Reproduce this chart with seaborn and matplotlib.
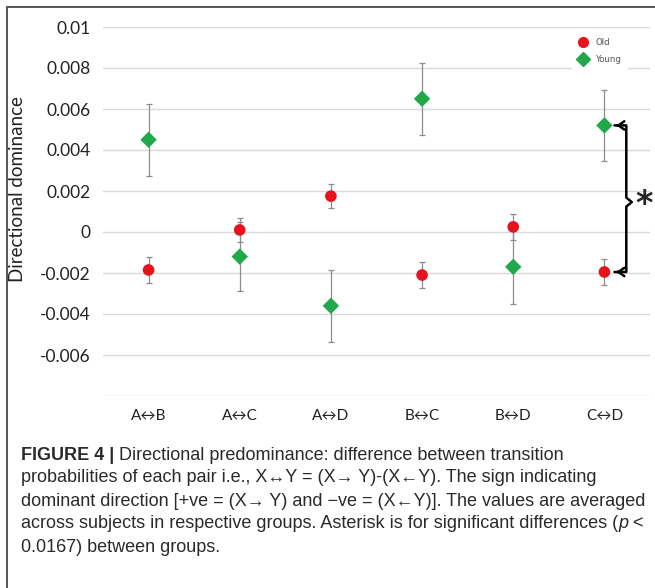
import matplotlib
matplotlib.use("Agg")
import matplotlib.pyplot as plt
import seaborn as sns
import pandas as pd
from matplotlib.lines import Line2D

pairs = ["A\u2194B", "A\u2194C", "A\u2194D", "B\u2194C", "B\u2194D", "C\u2194D"]
old_mean = [-0.00185, 0.0001, 0.00175, -0.0021, 0.00025, -0.00195]
old_err = [0.00065, 0.0006, 0.0006, 0.00065, 0.00065, 0.00065]
young_mean = [0.0045, -0.0012, -0.0036, 0.0065, -0.0017, 0.0052]
young_err = [0.00175, 0.0017, 0.00175, 0.00175, 0.0018, 0.00175]
groups = ["Old", "Young"]
yticks = [-0.008, -0.006, -0.004, -0.002, 0, 0.002, 0.004, 0.006, 0.008, 0.01]
ytick_labels = ["", "-0.006", "-0.004", "-0.002", "0", "0.002", "0.004", "0.006", "0.008", "0.01"]

sns.set_theme(style="white")
plt.rcParams["font.family"] = ["Lato", "DejaVu Sans"]

RED = "#e8121d"
GREEN = "#20a84a"

df = pd.DataFrame({
    "pair": pairs * 2,
    "value": old_mean + young_mean,
    "err": old_err + young_err,
    "group": ["Old"] * 6 + ["Young"] * 6,
})

fig = plt.figure(figsize=(6.55, 5.88), dpi=100)
ax = fig.add_axes([103 / 655, 1 - 396 / 588, 547 / 655, 369 / 588])

# error bars
for g in groups:
    sub = df[df.group == g]
    ax.errorbar(sub["pair"], sub["value"], yerr=sub["err"], fmt="none",
                ecolor="#8c8c8c", elinewidth=0.9, capsize=2.5, capthick=0.9, zorder=3)

sns.scatterplot(data=df, x="pair", y="value", hue="group", style="group",
                hue_order=groups, style_order=groups,
                palette={"Old": RED, "Young": GREEN},
                markers={"Old": "o", "Young": "D"},
                s=70, linewidth=0, ax=ax, zorder=4, legend=False)

ax.set_xlim(-0.5, 5.5)
ax.set_ylim(-0.008, 0.01)
ax.set_yticks(yticks)
ax.set_yticklabels(ytick_labels)
ax.grid(axis="y", color="#d9d9d9", linewidth=1)
ax.set_axisbelow(True)
for sp in ax.spines.values():
    sp.set_visible(False)
ax.tick_params(axis="y", length=0, pad=9, labelsize=12.5, labelcolor="#222222")
ax.tick_params(axis="x", length=0, pad=9, labelsize=11, labelcolor="#222222")
ax.set_xlabel("")
ax.set_ylabel("")

fig.text(18 / 655, 1 - 189 / 588, "Directional dominance", rotation=90,
         ha="center", va="center", fontsize=13.5, color="#222222")

# legend
handles = [Line2D([], [], marker="o", color=RED, linestyle="none", markersize=7),
           Line2D([], [], marker="D", color=GREEN, linestyle="none", markersize=7)]
leg = ax.legend(handles, groups, loc="upper left", bbox_to_anchor=(0.85, 0.995),
                frameon=True, facecolor="white", edgecolor="white", framealpha=1,
                fontsize=6.5, labelcolor="#555555", handletextpad=0.9,
                borderpad=0.6, labelspacing=0.85, handlelength=1.2,
                prop={"family": ["Verdana", "DejaVu Sans"], "size": 6.2})

# significance bracket
xv = 5.24
xt = 5.10
y_top = young_mean[5]
y_bot = old_mean[5]
y_mid = 0.00146
notch = 0.06
dy = 0.00022
ax.plot([xt + 0.01, xv, xv, xv + notch, xv, xv, xt + 0.01],
        [y_top, y_top, y_mid + dy, y_mid, y_mid - dy, y_bot, y_bot],
        color="black", lw=1.8, clip_on=False, zorder=5, solid_joinstyle="round")
for yy in (y_top, y_bot):
    ax.annotate("", xy=(xt, yy), xytext=(xt + 0.08, yy),
                arrowprops=dict(arrowstyle="->,head_length=0.35,head_width=0.25",
                                color="black", lw=1.8), annotation_clip=False, zorder=6)
ax.text(5.43, y_mid - 0.0001, "*", fontsize=24, fontweight="bold", ha="center", va="center",
        family=["DejaVu Sans"], clip_on=False)

# frame
fig.add_artist(Line2D([7 / 655, 7 / 655], [0, 1 - 7 / 588], color="#555555", lw=1.4,
                      transform=fig.transFigure))
fig.add_artist(Line2D([7 / 655, 1], [1 - 7 / 588, 1 - 7 / 588], color="#555555", lw=1.4,
                      transform=fig.transFigure))

# caption
cap_family = ["Liberation Sans", "DejaVu Sans"]
cap_size = 12.95
lines = [
    [("FIGURE 4 | ", "bold"), ("Directional predominance: difference between transition", "normal")],
    [("probabilities of each pair i.e., X\u2194Y = (X\u2192 Y)-(X\u2190Y). The sign indicating", "normal")],
    [("dominant direction [+ve = (X\u2192 Y) and \u2212ve = (X\u2190Y)]. The values are averaged", "normal")],
    [("across subjects in respective groups. Asterisk is for significant differences (", "normal"),
     ("p", "italic"), (" <", "normal")],
    [("0.0167) between groups.", "normal")],
]
fig.canvas.draw()
renderer = fig.canvas.get_renderer()
for i, pieces in enumerate(lines):
    ypix = 455 + 23 * i
    xpix = 21
    for txt, st in pieces:
        kw = dict(fontsize=cap_size, family=cap_family, color="#2a2a2a", va="center", ha="left")
        if st == "bold":
            kw["fontweight"] = "bold"
        if st == "italic":
            kw["fontstyle"] = "italic"
        t = fig.text(xpix / 655, 1 - ypix / 588, txt, **kw)
        bb = t.get_window_extent(renderer=renderer)
        xpix += bb.width

fig.savefig("out.png", dpi=100)
